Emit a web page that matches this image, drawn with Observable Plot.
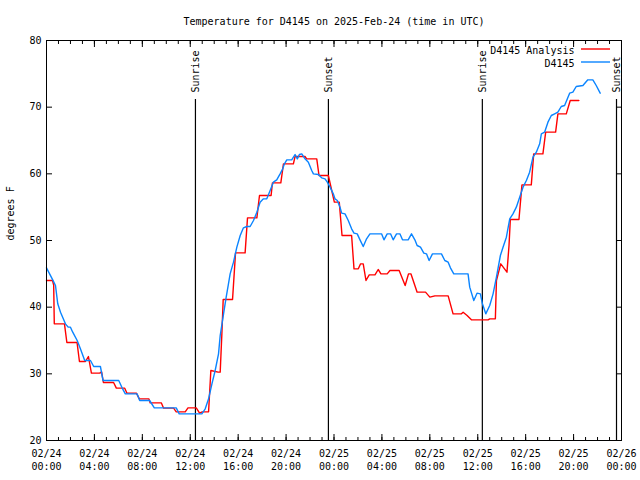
<!DOCTYPE html>
<html>
<head>
<meta charset="utf-8">
<script src="https://cdn.jsdelivr.net/npm/d3@7"></script>
<script src="https://cdn.jsdelivr.net/npm/@observablehq/plot@0.6"></script>
<style>
  html, body { margin: 0; padding: 0; background: #fff; }
</style>
</head>
<body>
<div id="chart"></div>
<script>
// ---- Data (hours after 2025-02-24 00:00 UTC, degrees F) ----
const titleText = "Temperature for D4145 on 2025-Feb-24 (time in UTC)";
const yLabel = "degrees F";
const seriesNames = ["D4145 Analysis", "D4145"];
const seriesColors = ["#ff0000", "#0a84ff"];

const analysisHours = [0.00,0.50,0.60,0.65,1.50,1.70,2.55,2.75,3.25,3.50,3.75,4.45,4.60,4.75,5.60,5.83,6.53,6.72,7.50,7.75,8.55,8.65,9.58,9.78,10.61,10.83,11.58,11.81,12.50,12.78,13.00,13.53,13.72,14.33,14.50,14.64,14.75,15.53,15.78,16.58,16.78,17.56,17.78,18.75,18.86,19.56,19.78,20.61,20.75,21.58,21.72,22.56,22.75,23.53,23.81,24.03,24.44,24.67,25.47,25.67,26.03,26.22,26.44,26.67,26.94,27.42,27.69,27.92,28.44,28.67,29.44,29.94,30.22,30.42,30.94,31.64,32.00,32.42,33.53,33.94,34.64,34.78,35.11,35.47,36.86,37.00,37.47,37.56,37.92,38.44,38.61,38.72,39.44,39.69,40.47,40.67,41.44,41.67,42.50,42.69,43.39,43.72,44.44];
const analysisTemps = [44.0,44.0,43.3,37.5,37.5,34.7,34.7,31.85,31.85,32.6,30.1,30.1,30.3,28.7,28.7,27.85,27.85,27.1,27.1,26.25,26.25,25.65,25.65,24.85,24.85,24.3,24.3,24.9,24.9,24.1,24.3,24.3,30.5,30.25,30.25,36.0,41.15,41.15,48.15,48.15,53.4,53.4,56.75,56.75,58.65,58.65,61.5,61.5,62.6,62.6,62.25,62.25,59.75,59.75,57.5,55.75,55.75,50.75,50.75,45.75,45.75,46.5,46.5,44.0,44.85,44.85,45.65,45.0,45.0,45.5,45.5,43.25,45.0,45.0,42.25,42.25,41.5,41.7,41.7,39.0,39.0,39.25,38.75,38.1,38.1,38.25,38.25,44.0,46.5,45.25,49.25,53.15,53.15,58.35,58.35,63.0,63.0,66.25,66.25,69.0,69.0,71.0,71.0];

const obsHours = [0.00,0.52,0.75,0.94,1.17,1.58,1.81,2.00,2.19,2.56,2.83,3.19,3.67,3.94,4.50,4.72,6.03,6.31,6.58,7.56,7.78,8.61,9.00,10.83,11.08,12.97,13.25,13.53,13.81,14.08,14.36,14.50,14.78,15.00,15.19,15.33,15.61,15.89,16.17,16.44,16.72,17.00,17.28,17.56,17.83,18.11,18.39,18.67,18.94,19.22,19.50,19.72,19.86,20.06,20.47,20.75,20.94,21.11,21.31,21.58,21.86,22.14,22.28,22.69,22.97,23.25,23.44,23.67,23.94,24.08,24.28,24.50,24.64,24.92,25.19,25.47,25.67,25.94,26.17,26.44,26.72,27.00,27.97,28.17,28.44,28.72,28.94,29.22,29.50,29.72,30.19,30.47,30.75,30.94,31.22,31.50,31.72,31.94,32.22,32.97,33.25,33.53,33.72,34.00,35.19,35.33,35.67,35.94,36.22,36.39,36.67,37.00,37.28,37.56,37.89,38.11,38.39,38.67,38.94,39.22,39.50,39.78,40.06,40.33,40.61,40.89,41.17,41.31,41.58,41.86,42.14,42.42,42.69,42.97,43.25,43.67,43.94,44.22,44.78,45.19,45.61,45.89,46.22];
const obsTemps = [45.9,44.1,43.25,40.5,39.25,37.5,37.0,37.0,36.25,35.0,33.75,32.0,32.0,31.1,31.1,29.0,29.0,27.9,27.0,27.0,26.0,26.0,24.9,24.9,24.0,24.0,24.75,26.25,28.5,30.5,33.0,35.75,39.0,41.5,43.5,45.0,46.75,49.0,50.75,51.9,52.1,52.1,53.0,54.25,55.75,56.25,56.25,57.5,58.75,59.1,60.0,60.75,61.5,62.1,62.1,62.9,62.25,62.9,63.0,62.25,61.75,60.5,60.0,59.9,59.4,59.25,58.75,58.0,57.0,56.25,56.0,55.0,54.1,54.0,53.0,51.75,51.1,51.0,50.1,49.1,50.25,51.0,51.0,50.1,51.0,51.0,50.1,51.0,51.0,50.1,50.1,51.0,50.1,49.25,49.0,48.1,48.0,47.0,48.0,48.0,47.0,46.75,45.9,45.0,45.0,43.0,41.0,42.1,42.0,40.5,39.0,40.25,42.0,44.5,47.75,49.0,50.5,53.25,54.0,55.0,56.5,58.0,59.0,60.25,62.5,63.25,64.5,66.0,66.25,67.75,68.75,69.0,69.25,70.1,70.25,72.1,72.25,73.1,73.25,74.1,74.1,73.25,72.1];

const eventTimes = ["2025-02-24T12:26Z", "2025-02-24T23:32Z", "2025-02-25T12:23Z", "2025-02-25T23:35Z"];
const eventLabels = ["Sunrise", "Sunset", "Sunrise", "Sunset"];

const yTicks = [20, 30, 40, 50, 60, 70, 80];
const xStart = "2025-02-24T00:00Z";
const xEnd = "2025-02-26T00:00Z";

// ---- Build tables ----
const t0 = new Date(xStart).getTime();
const toDate = h => new Date(t0 + h * 3600e3);
const analysis = analysisHours.map((h, i) => ({t: toDate(h), v: analysisTemps[i]}));
const obs = obsHours.map((h, i) => ({t: toDate(h), v: obsTemps[i]}));
const events = eventTimes.map((s, i) => ({t: new Date(s), label: eventLabels[i]}));
const start = new Date(xStart), end = new Date(xEnd);
const majorTicks = d3.utcHours(start, new Date(end.getTime() + 1), 4);
const minorTicks = d3.utcHours(start, new Date(end.getTime() + 1), 1);
const fmtDay = d3.utcFormat("%m/%d");
const fmtTime = d3.utcFormat("%H:%M");
const blank = () => "";

const font = "DejaVu Sans Mono";

const chart = Plot.plot({
  width: 640,
  height: 480,
  marginTop: 40,
  marginBottom: 40,
  marginLeft: 46,
  marginRight: 19,
  style: {fontFamily: font, fontSize: "10px", color: "black", background: "white"},
  x: {type: "utc", domain: [start, end]},
  y: {domain: [20, 80]},
  marks: [
    // axis tick marks drawn inward, on all four sides
    Plot.axisX(majorTicks, {anchor: "bottom", tickSize: 6, dy: -6, tickFormat: blank, label: null}),
    Plot.axisX(minorTicks, {anchor: "bottom", tickSize: 3, dy: -3, tickFormat: blank, label: null}),
    Plot.axisX(majorTicks, {anchor: "top", tickSize: 6, dy: 6, tickFormat: blank, label: null}),
    Plot.axisX(minorTicks, {anchor: "top", tickSize: 3, dy: 3, tickFormat: blank, label: null}),
    Plot.axisY(yTicks, {anchor: "left", tickSize: 6, dx: 6, tickFormat: blank, label: null}),
    Plot.axisY(yTicks, {anchor: "right", tickSize: 6, dx: -6, tickFormat: blank, label: null}),
    // y tick labels
    Plot.axisY(yTicks, {anchor: "left", tickSize: 0, tickPadding: 5, label: null, fontSize: 10}),
    // x tick labels (two lines)
    Plot.text(majorTicks, {x: d => d, text: d => fmtDay(d), frameAnchor: "bottom", dy: 13, lineAnchor: "middle"}),
    Plot.text(majorTicks, {x: d => d, text: d => fmtTime(d), frameAnchor: "bottom", dy: 26, lineAnchor: "middle"}),
    // sunrise / sunset rules and labels
    Plot.ruleX(events, {x: "t", stroke: "black", strokeWidth: 1.2, insetTop: 59}),
    Plot.text(events, {x: "t", text: "label", frameAnchor: "top", dy: 52, rotate: -90, textAnchor: "start", lineAnchor: "middle"}),
    // series
    Plot.line(analysis, {x: "t", y: "v", stroke: seriesColors[0], strokeWidth: 1.4}),
    Plot.line(obs, {x: "t", y: "v", stroke: seriesColors[1], strokeWidth: 1.4}),
    // frame
    Plot.frame({stroke: "black", strokeWidth: 1}),
    // title and y label
    Plot.text([titleText], {text: d => d, frameAnchor: "top", dy: -19, lineAnchor: "middle"}),
    Plot.text([yLabel], {text: d => d, frameAnchor: "left", dx: -36, rotate: -90, lineAnchor: "middle"}),
    // legend labels
    Plot.text([seriesNames[0]], {text: d => d, frameAnchor: "top-right", dx: -47, dy: 10, textAnchor: "end", lineAnchor: "middle"}),
    Plot.text([seriesNames[1]], {text: d => d, frameAnchor: "top-right", dx: -47, dy: 23, textAnchor: "end", lineAnchor: "middle"})
  ]
});

// legend line samples
const svg = d3.select(chart);
[[49, seriesColors[0]], [62, seriesColors[1]]].forEach(([y, c]) => {
  svg.append("line")
    .attr("x1", 581).attr("x2", 610)
    .attr("y1", y).attr("y2", y)
    .attr("stroke", c).attr("stroke-width", 1.4);
});

document.getElementById("chart").append(chart);
</script>
</body>
</html>
